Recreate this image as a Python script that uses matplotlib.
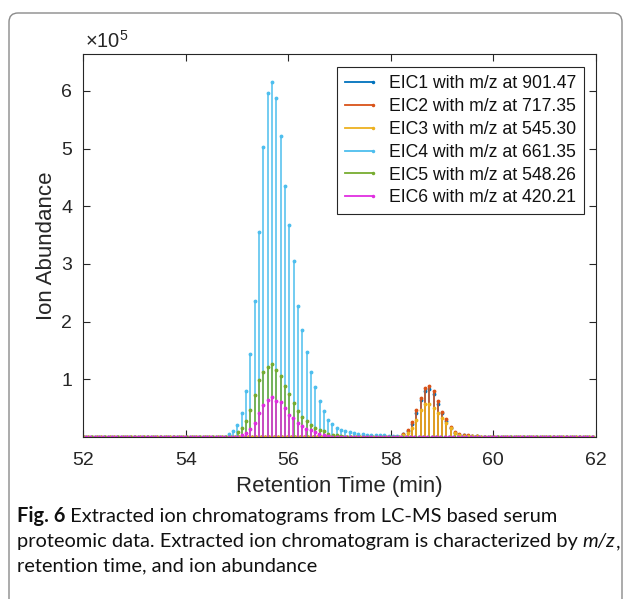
import numpy as np
import matplotlib
matplotlib.use('Agg')
import matplotlib.pyplot as plt
from matplotlib.patches import FancyBboxPatch
from matplotlib.lines import Line2D
from matplotlib.legend_handler import HandlerBase

plt.rcParams['font.family'] = ['Liberation Sans', 'DejaVu Sans']
plt.rcParams['mathtext.fontset'] = 'custom'
plt.rcParams['mathtext.rm'] = 'Liberation Sans'
plt.rcParams['mathtext.it'] = 'Liberation Sans:italic'

# ---------------- data (ion abundance in units of 1e5) ----------------
labels = ['EIC1 with m/z at 901.47', 'EIC2 with m/z at 717.35',
          'EIC3 with m/z at 545.30', 'EIC4 with m/z at 661.35',
          'EIC5 with m/z at 548.26', 'EIC6 with m/z at 420.21']
colors = ['#0072BD', '#D95319', '#EDB120', '#4DBEEE', '#77AC30', '#E02EE0']

scan_interval = 0.0843          # minutes between scans
rt_range = (52.0, 62.0)

# retention time of first non-zero scan for each EIC
start_rt = [58.245, 58.245, 58.245, 54.84, 55.01, 55.09]

eic1 = [0.05, 0.10, 0.22, 0.42, 0.64, 0.80, 0.83, 0.75, 0.58, 0.41, 0.28, 0.15,
        0.07, 0.04, 0.03, 0.02, 0.01, 0.01]
eic2 = [0.06, 0.12, 0.26, 0.46, 0.68, 0.85, 0.88, 0.79, 0.62, 0.44, 0.31, 0.18,
        0.09, 0.05, 0.04, 0.03, 0.02, 0.02]
eic3 = [0.03, 0.07, 0.15, 0.30, 0.47, 0.57, 0.58, 0.50, 0.42, 0.33, 0.24, 0.15,
        0.07, 0.04, 0.02, 0.01, 0.01, 0.01]
eic4 = [0.05, 0.10, 0.20, 0.41, 0.80, 1.44, 2.35, 3.55, 5.03, 5.97, 6.15, 5.88,
        5.22, 4.36, 3.68, 3.05, 2.27, 1.85, 1.47, 1.12, 0.87, 0.63, 0.45, 0.30,
        0.22, 0.15, 0.12, 0.10, 0.09, 0.07, 0.06, 0.05, 0.04, 0.04, 0.03, 0.03,
        0.03, 0.02, 0.02, 0.02]
eic5 = [0.09, 0.16, 0.28, 0.46, 0.72, 0.98, 1.12, 1.22, 1.26, 1.17, 1.05, 0.88,
        0.75, 0.59, 0.45, 0.35, 0.28, 0.21, 0.16, 0.13, 0.10, 0.06, 0.04, 0.03,
        0.02]
eic6 = [0.04, 0.07, 0.14, 0.24, 0.42, 0.56, 0.65, 0.69, 0.63, 0.60, 0.50, 0.39,
        0.33, 0.24, 0.19, 0.14, 0.12, 0.09, 0.06, 0.04, 0.02]
series = [eic1, eic2, eic3, eic4, eic5, eic6]

xticks = [52, 54, 56, 58, 60, 62]
yticks = [1, 2, 3, 4, 5, 6]

caption_lines = [
    [('Fig. 6', 'bold'), (' Extracted ion chromatograms from LC-MS based serum', 'normal')],
    [('proteomic data. Extracted ion chromatogram is characterized by ', 'normal'),
     ('m/z', 'italic'), (',', 'normal')],
    [('retention time, and ion abundance', 'normal')],
]


def full_trace(t0, vals):
    """Place the read values on the scan grid; scans outside the peak are zero."""
    n_before = int(np.floor((t0 - rt_range[0]) / scan_interval))
    n_after = int(np.floor((rt_range[1] - t0) / scan_interval)) + 1
    idx = np.arange(-n_before, n_after)
    t = t0 + idx * scan_interval
    v = np.zeros_like(t)
    v[n_before:n_before + len(vals)] = vals
    return t, v


W, H = 629, 599
fig = plt.figure(figsize=(W / 100, H / 100), dpi=100)

# rounded frame
frame = FancyBboxPatch((9, -30), 613, H - 13 + 30,
                       boxstyle='round,pad=0,rounding_size=9',
                       transform=None, fill=False, edgecolor='#8a8a8a',
                       linewidth=1.0)
fig.patches.append(frame)

ax_l, ax_r, ax_t, ax_b = 83.3, 595.7, 54.0, 437.0
ax = fig.add_axes([ax_l / W, 1 - ax_b / H, (ax_r - ax_l) / W, (ax_b - ax_t) / H])

dark = '#262626'
for t0, vals, c in zip(start_rt, series, colors):
    t, v = full_trace(t0, vals)
    ml, sl, bl = ax.stem(t, v, basefmt=' ')
    sl.set_color(c)
    sl.set_linewidth(1.1)
    ml.set_color(c)
    ml.set_marker('.')
    ml.set_markersize(3.5)

ax.set_xlim(*rt_range)
ax.set_ylim(0, 6.64)
ax.set_xticks(xticks)
ax.set_yticks(yticks)
ax.tick_params(direction='in', top=True, right=True, length=5, width=0.8,
               labelsize=14, colors=dark)
ax.tick_params(axis='x', pad=11)
ax.tick_params(axis='y', pad=8)
for s in ax.spines.values():
    s.set_color(dark)
    s.set_linewidth(0.8)
ax.set_xlabel('Retention Time (min)', fontsize=16, color=dark, labelpad=5)
ax.set_ylabel('Ion Abundance', fontsize=16, color=dark, labelpad=3)

fig.text(85 / W, 1 - 47.5 / H, '×10$^{5}$', fontsize=14.5, color=dark,
         va='baseline', ha='left')


class StemHandler(HandlerBase):
    def create_artists(self, legend, orig, xd, yd, w, h, fontsize, trans):
        y = h / 2 - yd
        ln = Line2D([-xd, -xd + w], [y, y], color=orig.get_color(),
                    lw=orig.get_linewidth())
        mk = Line2D([-xd + w], [y], color=orig.get_color(), marker='.',
                    ms=3, ls='none')
        ln.set_transform(trans)
        mk.set_transform(trans)
        return [ln, mk]


handles = [Line2D([], [], color=c, lw=1.3) for c in colors]
leg = ax.legend(handles, labels, loc='upper right',
                bbox_to_anchor=((584.3 - ax_l) / (ax_r - ax_l), (ax_b - 67.3) / (ax_b - ax_t)),
                borderaxespad=0, fontsize=12.7, handlelength=1.6, handletextpad=0.9,
                labelspacing=0.33, borderpad=0.45, fancybox=False, framealpha=1,
                edgecolor=dark, handler_map={Line2D: StemHandler()})
leg.get_frame().set_linewidth(0.8)
for txt in leg.get_texts():
    txt.set_color('#111111')

# caption
cap_font = 'Lato'
baselines = [522, 547, 571.5]
for line, yb in zip(caption_lines, baselines):
    prev = None
    for text, style in line:
        kw = dict(fontsize=14.4, family=[cap_font, 'DejaVu Sans'], color='#111111',
                  va='baseline', ha='left')
        if style == 'bold':
            kw['fontweight'] = 'bold'
        if style == 'italic':
            kw['fontstyle'] = 'italic'
        if prev is None:
            prev = fig.text(17 / W, 1 - yb / H, text, **kw)
        else:
            prev = fig.add_artist(matplotlib.text.Annotation(
                text, xy=(1, 1 - yb / H), xycoords=(prev, 'figure fraction'), **kw))

fig.savefig('out.png', dpi=100)
